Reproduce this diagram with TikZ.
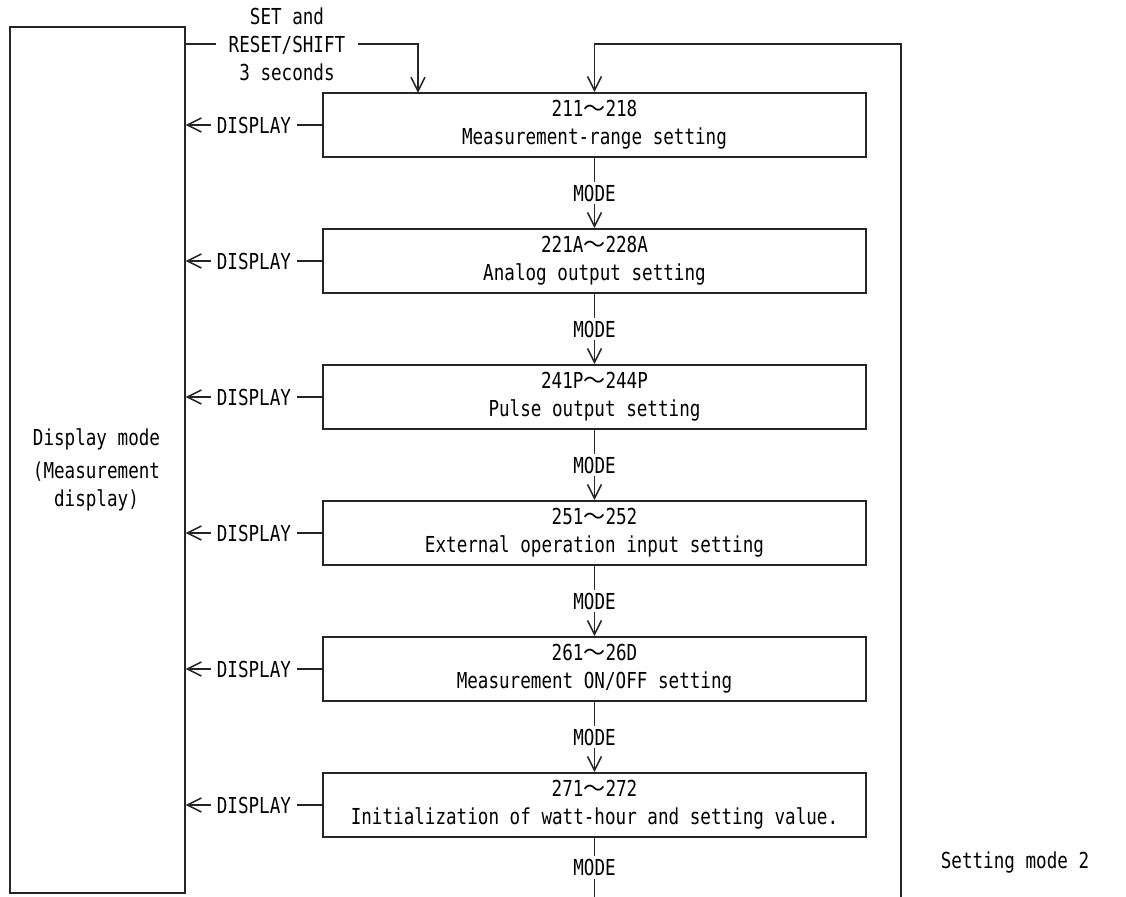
\documentclass[tikz,border=0pt]{standalone}
\usepackage{fontspec}
\setmainfont{DejaVu Sans Mono}[FakeStretch=0.8]
\newfontfamily\cjk{Noto Sans CJK JP}
\usetikzlibrary{arrows.meta}
\newcommand{\wave}{{\cjk ～}}

\begin{document}
\begin{tikzpicture}[
  x=0.5pt, y=-0.5pt,
  setbox/.style={draw, rectangle, align=center, minimum width=271.5pt, minimum height=32pt, inner sep=0pt},
  key/.style={fill=white, inner xsep=3pt, inner ysep=1.5pt},
  >={Straight Barb[length=7pt, width=7pt]}, line width=0.8pt, draw=black!85,
  every node/.style={font=\fontsize{11}{14}\selectfont}
]
\useasboundingbox (0,0) rectangle (1126,897);

\node[draw, minimum width=87.5pt, minimum height=433pt, anchor=north west] (disp) at (9,26) {};
\node[align=center] (disptxt) at (96.5,470) {Display mode\\[2.5pt](Measurement\\display)};

\node[setbox] (range)  at (594.5,125) {211\wave 218\\Measurement-range setting};
\node[setbox] (analog) at (594.5,261) {221A\wave 228A\\Analog output setting};
\node[setbox] (pulse)  at (594.5,397) {241P\wave 244P\\Pulse output setting};
\node[setbox] (extin)  at (594.5,533) {251\wave 252\\External operation input setting};
\node[setbox] (onoff)  at (594.5,669) {261\wave 26D\\Measurement ON/OFF setting};
\node[setbox] (init)   at (594.5,805) {271\wave 272\\Initialization of watt-hour and setting value.};

\node[align=center, inner xsep=6pt] (setkey) at (287,44) {SET and\\RESET/SHIFT\\3 seconds};
\node (mode2) at (1015,863) {Setting mode 2};

\coordinate (setin)   at (418,93);
\coordinate (modeend) at (594.5,897);
\coordinate (loopend) at (901,897);
\coordinate (looptop) at (901,44);

% entering setting mode 2
\draw (disp.east |- setkey) -- (setkey.west);
\draw[->] (setkey.east) -| (setin);

% back to display mode
\foreach \b in {range,analog,pulse,extin,onoff,init}
  \draw[->] (\b.west) -- (disp.east |- \b.west) node[midway, key] {DISPLAY};

% MODE steps
\draw[->] (range)  -- node[key] {MODE} (analog);
\draw[->] (analog) -- node[key] {MODE} (pulse);
\draw[->] (pulse)  -- node[key] {MODE} (extin);
\draw[->] (extin)  -- node[key] {MODE} (onoff);
\draw[->] (onoff)  -- node[key] {MODE} (init);
\draw (init) -- node[key] {MODE} (modeend);

% loop back to the first setting
\draw[->] (loopend) -- (looptop) -| (range.north);
\end{tikzpicture}
\end{document}
